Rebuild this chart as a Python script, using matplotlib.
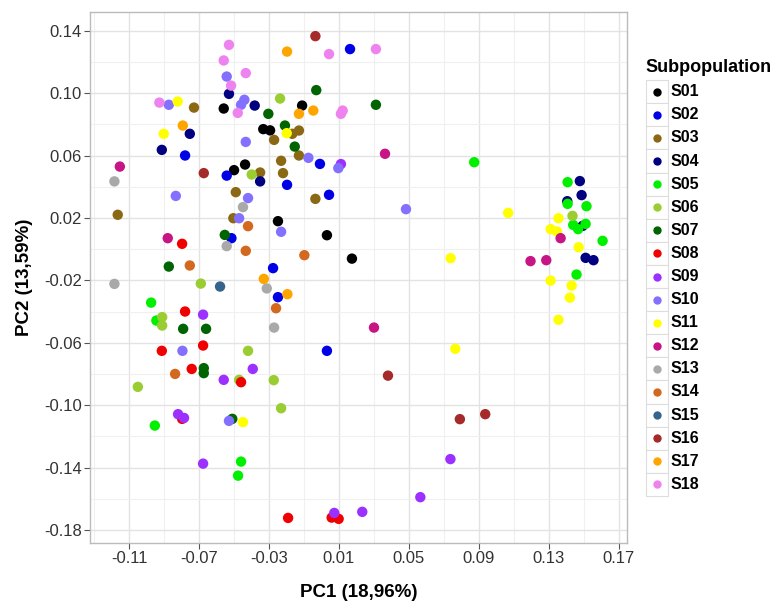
import matplotlib.pyplot as plt
from matplotlib.patches import Rectangle

plt.rcParams['font.family'] = ['Liberation Sans', 'DejaVu Sans']

# PCA scores, one pair of lists per subpopulation
s01_x = [-0.0559, -0.0333, -0.0294, -0.0111, -0.0500, -0.0437, -0.0249, 0.0031, 0.0174]
s01_y = [0.0902, 0.0770, 0.0762, 0.0921, 0.0507, 0.0543, 0.0180, 0.0090, -0.0060]
s02_x = [0.0163, -0.0780, -0.0542, -0.0009, -0.0197, 0.0043, -0.0515, -0.0277, -0.0249, 0.0031]
s02_y = [0.1283, 0.0601, 0.0472, 0.0547, 0.0413, 0.0349, 0.0071, -0.0121, -0.0307, -0.0651]
s03_x = [-0.0729, -0.0351, -0.0490, -0.0167, -0.0129, -0.0271, -0.0129, -0.0231, -0.0220,
         -0.1165, -0.0504, -0.0035]
s03_y = [0.0908, 0.0492, 0.0366, 0.0740, 0.0761, 0.0701, 0.0601, 0.0567, 0.0488,
         0.0221, 0.0199, 0.0323]
s04_x = [-0.0529, -0.0382, -0.0753, -0.0913, -0.0351, 0.1477, 0.1487, 0.1405, 0.1493, 0.1510, 0.1555]
s04_y = [0.0996, 0.0921, 0.0740, 0.0637, 0.0435, 0.0437, 0.0347, 0.0308, 0.0150, -0.0055, -0.0070]
s05_x = [0.0873, 0.1407, 0.1407, 0.1515, 0.1439, 0.1467, 0.1510, 0.1607, 0.1458,
         -0.0974, -0.0944, -0.0953, -0.0460, -0.0477]
s05_y = [0.0558, 0.0430, 0.0291, 0.0276, 0.0156, 0.0129, 0.0163, 0.0054, -0.0162,
         -0.0342, -0.0457, -0.1130, -0.1361, -0.1451]
s06_x = [-0.0399, -0.0237, -0.0690, -0.0911, -0.0911, -0.0420, -0.1050, -0.0471, -0.0273, -0.0231, 0.1435]
s06_y = [0.0479, 0.0966, -0.0220, -0.0435, -0.0489, -0.0651, -0.0882, -0.0837, -0.0839, -0.1019, 0.0214]
s07_x = [-0.0304, -0.0030, 0.0311, -0.0209, -0.0153, -0.0553, -0.0873, -0.0791, -0.0660,
         -0.0673, -0.0673, -0.0510]
s07_y = [0.0868, 0.1020, 0.0926, 0.0793, 0.0658, 0.0092, -0.0111, -0.0510, -0.0510,
         -0.0762, -0.0794, -0.1087]
s08_x = [-0.0797, -0.0780, -0.0913, -0.0677, -0.0742, -0.0460, -0.0797, -0.0191, 0.0058, 0.0098]
s08_y = [0.0035, -0.0399, -0.0651, -0.0617, -0.0767, -0.0852, -0.1087, -0.1722, -0.1720, -0.1728]
s09_x = [-0.0677, 0.0111, -0.0559, -0.0393, -0.0820, -0.0786, -0.0677, 0.0073, 0.0233, 0.0565, 0.0737]
s09_y = [-0.0419, 0.0546, -0.0837, -0.0767, -0.1057, -0.1081, -0.1374, -0.1690, -0.1683, -0.1589, -0.1345]
s10_x = [-0.0542, -0.0873, -0.0441, -0.0460, -0.0433, -0.0075, 0.0096, -0.0833, -0.0420,
         -0.0471, -0.0231, 0.0483, -0.0795, -0.0529]
s10_y = [0.1107, 0.0926, 0.0958, 0.0926, 0.0688, 0.0586, 0.0520, 0.0342, 0.0328,
         0.0199, 0.0112, 0.0257, -0.0651, -0.1100]
s11_x = [-0.0822, -0.0902, -0.0199, -0.0449, 0.1067, 0.0738, 0.1355, 0.1310, 0.1346,
         0.1470, 0.1310, 0.1430, 0.1420, 0.1355, 0.0765]
s11_y = [0.0947, 0.0740, 0.0744, -0.1108, 0.0233, -0.0057, 0.0199, 0.0129, 0.0114,
         0.0013, -0.0201, -0.0233, -0.0310, -0.0452, -0.0638]
s12_x = [-0.1153, -0.0879, 0.0363, 0.0300, 0.1367, 0.1195, 0.1285]
s12_y = [0.0530, 0.0071, 0.0612, -0.0502, 0.0071, -0.0076, -0.0070]
s13_x = [-0.1184, -0.0449, -0.0542, -0.1184, -0.0313, -0.0271]
s13_y = [0.0435, 0.0270, 0.0020, -0.0222, -0.0251, -0.0502]
s14_x = [-0.0420, -0.0433, -0.0753, -0.0098, -0.0260, -0.0837]
s14_y = [0.0148, -0.0010, -0.0104, -0.0038, -0.0378, -0.0799]
s15_x = [-0.0580]
s15_y = [-0.0239]
s16_x = [-0.0035, -0.0673, 0.0380, 0.0791, 0.0936]
s16_y = [0.1366, 0.0488, -0.0810, -0.1089, -0.1057]
s17_x = [-0.0197, -0.0047, -0.0129, -0.0793, -0.0330, -0.0195]
s17_y = [0.1267, 0.0889, 0.0868, 0.0793, -0.0190, -0.0288]
s18_x = [-0.0529, -0.0559, -0.0433, -0.0517, -0.0927, -0.0479, 0.0043, 0.0311, 0.0121, 0.0111]
s18_y = [0.1310, 0.1210, 0.1129, 0.1049, 0.0940, 0.0874, 0.1251, 0.1283, 0.0889, 0.0868]

groups = ['S01', 'S02', 'S03', 'S04', 'S05', 'S06', 'S07', 'S08', 'S09',
          'S10', 'S11', 'S12', 'S13', 'S14', 'S15', 'S16', 'S17', 'S18']
xs = [s01_x, s02_x, s03_x, s04_x, s05_x, s06_x, s07_x, s08_x, s09_x,
      s10_x, s11_x, s12_x, s13_x, s14_x, s15_x, s16_x, s17_x, s18_x]
ys = [s01_y, s02_y, s03_y, s04_y, s05_y, s06_y, s07_y, s08_y, s09_y,
      s10_y, s11_y, s12_y, s13_y, s14_y, s15_y, s16_y, s17_y, s18_y]
colors = ['black', '#0000E6', '#8B6914', '#000080', '#00F000', '#9ACD32', '#006400',
          '#F00000', '#9B30FF', '#8470FF', '#FFFF00', '#C71585', '#A9A9A9', '#D2691E',
          '#36648B', '#A52A2A', '#FFA500', '#EE82EE']

xticks = [-0.11, -0.07, -0.03, 0.01, 0.05, 0.09, 0.13, 0.17]
yticks = [0.14, 0.10, 0.06, 0.02, -0.02, -0.06, -0.10, -0.14, -0.18]

fig = plt.figure(figsize=(7.82, 6.04), dpi=100)
ax = fig.add_axes([90 / 782, 61 / 604, 537 / 782, 531 / 604])

for g, x, y, c in zip(groups, xs, ys, colors):
    ax.scatter(x, y, s=56, color=c, edgecolors='none', zorder=3)

# ggplot-like 5% expansion
allx = [v for x in xs for v in x]
ally = [v for y in ys for v in y]
dx = (max(allx) - min(allx)) * 0.05
dy = (max(ally) - min(ally)) * 0.05
ax.set_xlim(min(allx) - dx, max(allx) + dx)
ax.set_ylim(min(ally) - dy, max(ally) + dy)

ax.set_xticks(xticks)
ax.set_xticklabels(['%.2f' % t for t in xticks])
ax.set_yticks(yticks)
ax.set_yticklabels(['%.2f' % t for t in yticks])
ax.set_xticks([t + 0.02 for t in xticks[:-1]] + [xticks[0] - 0.02], minor=True)
ax.set_yticks([t - 0.02 for t in yticks[:-1]], minor=True)
ax.grid(True, which='major', color='#E3E3E3', linewidth=1.0, zorder=0)
ax.grid(True, which='minor', color='#F0F0F0', linewidth=0.8, zorder=0)
ax.set_axisbelow(True)
ax.tick_params(which='major', direction='out', length=4, width=0.8, color='#555555',
               labelsize=12, labelcolor='#333333', pad=2)
ax.tick_params(which='minor', length=0)
for sp in ax.spines.values():
    sp.set_color('#BBBBBB')
    sp.set_linewidth(1.0)

ax.set_xlabel('PC1 (18,96%)', fontsize=13.5, fontweight='bold', labelpad=13)
ax.set_ylabel('PC2 (13,59%)', fontsize=13.5, fontweight='bold', labelpad=8)

# legend drawn by hand to mimic ggplot keys
fig.text(645 / 782, 1 - 68 / 604, 'Subpopulation', fontsize=13, fontweight='bold',
         ha='left', va='center')
key_w, key_h = 22, 23.1
for i, (g, c) in enumerate(zip(groups, colors)):
    cy = 91.7 + i * key_h
    fig.patches.append(Rectangle((645.5 / 782, 1 - (cy + key_h / 2) / 604),
                                 key_w / 782, key_h / 604, transform=fig.transFigure,
                                 facecolor='white', edgecolor='#DDDDDD', linewidth=0.8))
    fig.lines.append(plt.Line2D([656.5 / 782], [1 - cy / 604], marker='o', markersize=6,
                                color=c, markeredgewidth=0, transform=fig.transFigure))
    fig.text(671 / 782, 1 - cy / 604, g, fontsize=11.5, fontweight='bold',
             ha='left', va='center')

fig.savefig('out.png', dpi=100)
